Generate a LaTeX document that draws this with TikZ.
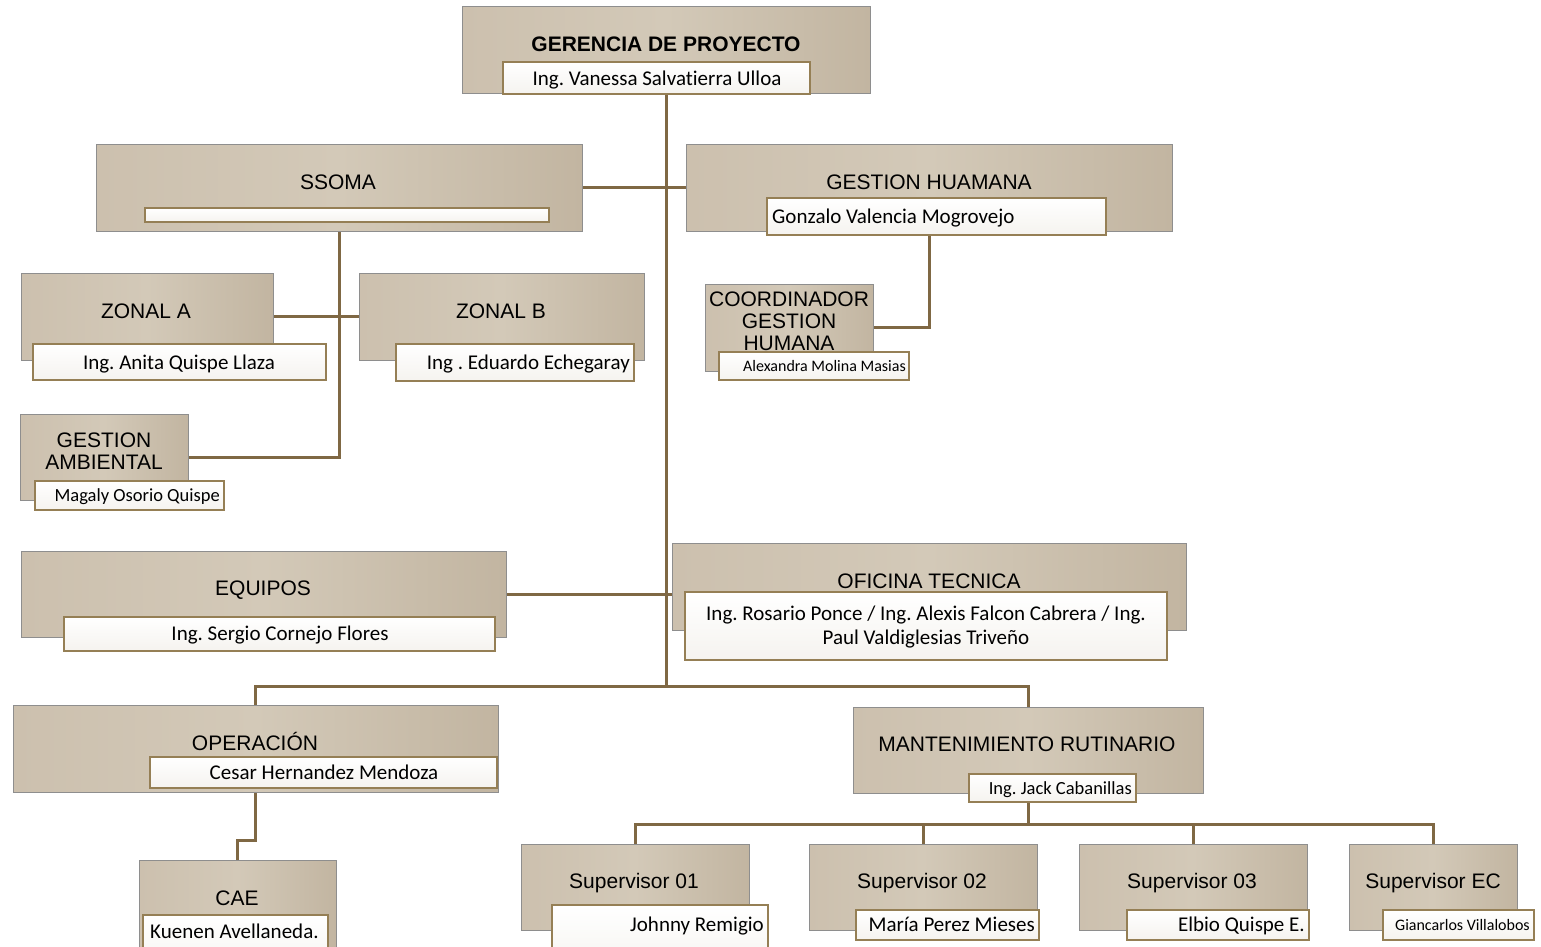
\documentclass[tikz,border=0pt]{standalone}
\usepackage{fontspec}
\newfontfamily\titlefont{Liberation Sans}
\newfontfamily\namefont[Ligatures={NoCommon}]{Carlito}
\usetikzlibrary{calc,backgrounds}
\definecolor{boxL}{HTML}{CCC0AE}
\definecolor{boxM}{HTML}{D3C9B8}
\definecolor{boxR}{HTML}{C2B5A1}
\definecolor{boxline}{HTML}{8E8E8E}
\definecolor{nameline}{HTML}{957F55}
\definecolor{conncol}{HTML}{7F6844}
\definecolor{nameTop}{HTML}{FFFFFF}
\definecolor{nameBot}{HTML}{F5F3EF}
\newcommand\orgbox[5]{\node[unit, minimum width={#4-#2}, minimum height={#5-#3}] (#1) at (#2,#3) {};}
\newcommand\namebox[5]{\node[nbox, minimum width={#4-#2}, minimum height={#5-#3}] (#1) at (#2,#3) {};}
\frenchspacing
\begin{document}
\begin{tikzpicture}[x=1pt,y=-1pt,
  unit/.style={draw=boxline, line width=1pt, left color=boxL, right color=boxR, middle color=boxM, rectangle, inner sep=0pt, outer sep=0pt, anchor=north west},
  nbox/.style={draw=nameline, line width=2.6pt, top color=nameTop, bottom color=nameBot, rectangle, inner sep=0pt, outer sep=0pt, anchor=north west},
  ttl/.style={font=\titlefont\fontsize{21}{22}\selectfont, inner sep=0pt, align=center, text=black},
  ttlb/.style={ttl, font=\titlefont\bfseries\fontsize{21}{22}\selectfont},
  nm/.style={font=\namefont\fontsize{21}{24}\selectfont, inner sep=0pt, align=center, text=black},
  nms/.style={font=\namefont\fontsize{18.5}{20}\selectfont, inner sep=0pt, text=black},
  nmxs/.style={font=\namefont\fontsize{16}{18}\selectfont, inner sep=0pt, text=black},
  conn/.style={draw=conncol, line width=3pt}]
\useasboundingbox (0,0) rectangle (1541,946);
\clip (0,0) rectangle (1541,946);

% unit boxes
\orgbox{ger}{462}{6}{870}{93}
\orgbox{sso}{96}{144}{582}{231}
\orgbox{ghu}{686}{144}{1172}{231}
\orgbox{zoa}{21}{273}{273}{360}
\orgbox{zob}{359}{273}{644}{360}
\orgbox{gam}{20}{414}{188}{500}
\orgbox{coo}{705}{284}{873}{371}
\orgbox{equ}{21}{551}{506}{637}
\orgbox{ofi}{672}{543}{1186}{630}
\orgbox{ope}{13}{705}{498}{792}
\orgbox{man}{853}{707}{1203}{793}
\orgbox{cae}{139}{860}{336}{975}
\orgbox{sa}{521}{844}{749}{930}
\orgbox{sb}{809}{844}{1037}{930}
\orgbox{sc}{1079}{844}{1307}{930}
\orgbox{sd}{1349}{844}{1517}{930}

% titles
\node[ttlb, anchor=base] (tger) at (666,51) {GERENCIA DE PROYECTO};
\node[ttl, anchor=base] (tsso) at (338,189) {SSOMA};
\node[ttl, anchor=base] (tghu) at (929,189) {GESTION HUAMANA};
\node[ttl, anchor=base] (tzoa) at (146,318) {ZONAL A};
\node[ttl, anchor=base] (tzob) at (501,318) {ZONAL B};
\node[ttl, anchor=center] (tgam) at (104,451) {GESTION\\AMBIENTAL};
\node[ttl, anchor=center] (tcoo) at (789,321) {COORDINADOR\\GESTION\\HUMANA};
\node[ttl, anchor=base] (tequ) at (263,595) {EQUIPOS};
\node[ttl, anchor=base] (tofi) at (929,588) {OFICINA TECNICA};
\node[ttl, anchor=base] (tope) at (255,750) {OPERACIÓN};
\node[ttl, anchor=base] (tman) at (1027,751) {MANTENIMIENTO RUTINARIO};
\node[ttl, anchor=base] (tcae) at (237,905) {CAE};
\node[ttl, anchor=base] (tsa) at (634,888) {Supervisor 01};
\node[ttl, anchor=base] (tsb) at (922,888) {Supervisor 02};
\node[ttl, anchor=base] (tsc) at (1192,888) {Supervisor 03};
\node[ttl, anchor=base] (tsd) at (1433,888) {Supervisor EC};

% name boxes
\namebox{gerN}{503}{62}{810}{94}
\namebox{ssoN}{145}{208}{549}{222}
\namebox{ghuN}{767}{198}{1106}{235}
\namebox{zoaN}{33}{344}{326}{380}
\namebox{zobN}{396}{344}{634}{381}
\namebox{gamN}{35}{481}{224}{510}
\namebox{cooN}{719}{352}{909}{380}
\namebox{equN}{64}{617}{495}{651}
\namebox{ofiN}{685}{592}{1167}{660}
\namebox{opeN}{150}{757}{497}{788}
\namebox{manN}{969}{774}{1136}{802}
\namebox{caeN}{143}{915}{328}{975}
\namebox{saN}{552}{905}{768}{975}
\namebox{sbN}{856}{910}{1039}{940}
\namebox{scN}{1127}{910}{1309}{940}
\namebox{sdN}{1383}{910}{1534}{940}

% names
\node[nm, anchor=base] (nger) at (657,85) {Ing. Vanessa Salvatierra Ulloa};
\node[nm, anchor=base west] (nghu) at (772,223) {Gonzalo Valencia Mogrovejo};
\node[nm, anchor=base] (nzoa) at (179,369) {Ing. Anita Quispe Llaza};
\node[nm, anchor=base east] (nzob) at (630,369) {Ing . Eduardo Echegaray};
\node[nms, anchor=base east] (ngam) at (220,501) {Magaly Osorio Quispe};
\node[nmxs, anchor=base east] (ncoo) at (906,371) {Alexandra Molina Masias};
\node[nm, anchor=base] (nequ) at (280,640) {Ing. Sergio Cornejo Flores};
\node[nm, anchor=center] (nofi) at (926,627) {Ing. Rosario Ponce / Ing. Alexis Falcon Cabrera / Ing.\\Paul Valdiglesias Triveño};
\node[nm, anchor=base] (nope) at (324,779) {Cesar Hernandez Mendoza};
\node[nms, anchor=base east] (nman) at (1132,794) {Ing. Jack Cabanillas};
\node[nm, anchor=base west] (ncae) at (150,938) {Kuenen Avellaneda.};
\node[nm, anchor=base east] (nsa) at (764,931) {Johnny Remigio};
\node[nm, anchor=base east] (nsb) at (1035,931) {María Perez Mieses};
\node[nm, anchor=base east] (nsc) at (1305,931) {Elbio Quispe E.};
\node[nmxs, anchor=base east] (nsd) at (1530,930) {Giancarlos Villalobos};

% connectors
\begin{scope}[on background layer]
\coordinate (bar) at (666,686);
\coordinate (supbar) at (1028,824);
\draw[conn] (ger.south) -- (ger.south |- bar);
\draw[conn] (ope.north) |- (bar) -| (man.north);
\draw[conn] (sso.east) -- (ghu.west);
\draw[conn] (equ.east) -- (equ.east -| ofi.west);
\draw[conn] (zoa.east) -- (zoa.east -| zob.west);
\draw[conn] (sso.south) |- (gam.east);
\draw[conn] (ghu.south) |- (coo.east);
\draw[conn] (ope.south) -- ([yshift=-48pt]ope.south) -| (cae.north);
\draw[conn] (man.south) -- (man.south |- supbar);
\draw[conn] (sa.north) |- (sd.north |- supbar) -- (sd.north);
\draw[conn] (sb.north) -- (sb.north |- supbar);
\draw[conn] (sc.north) -- (sc.north |- supbar);
\end{scope}
\end{tikzpicture}
\end{document}
